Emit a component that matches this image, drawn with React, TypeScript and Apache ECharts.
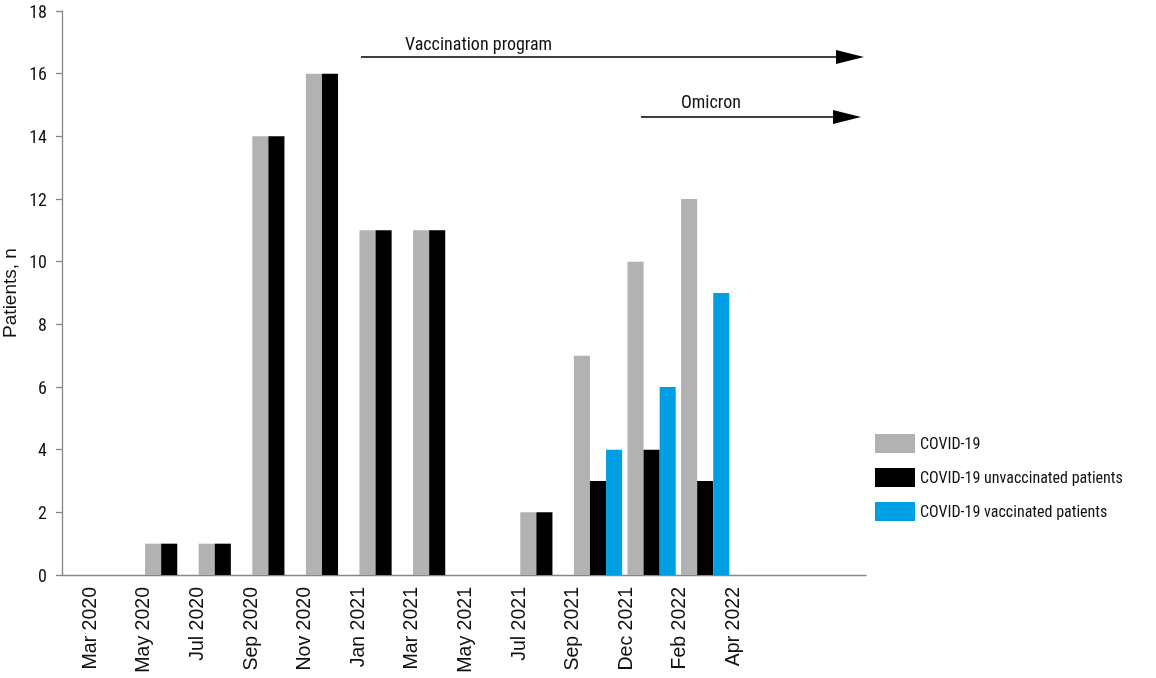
import React, { useEffect, useRef } from "react";
import * as echarts from "echarts";

const tickLabels = [
  "Mar 2020", "May 2020", "Jul 2020", "Sep 2020", "Nov 2020", "Jan 2021", "Mar 2021",
  "May 2021", "Jul 2021", "Sep 2021", "Dec 2021", "Feb 2022", "Apr 2022", "", "",
];
// values per period (bars drawn just right of each tick)
const covid = [0, 1, 1, 14, 16, 11, 11, 0, 2, 7, 10, 12, 0, 0, 0];
const unvaccinated = [0, 1, 1, 14, 16, 11, 11, 0, 2, 3, 4, 3, 0, 0, 0];
const vaccinated = [0, 0, 0, 0, 0, 0, 0, 0, 0, 4, 6, 9, 0, 0, 0];
const seriesNames = ["COVID-19", "COVID-19 unvaccinated patients", "COVID-19 vaccinated patients"];
const colors = ["#b2b2b2", "#000000", "#009fe3"];

const FONT = "'Liberation Sans Narrow', 'Roboto Condensed', 'DejaVu Sans Condensed', 'Liberation Sans', sans-serif";
const FONT_X = "'Liberation Sans', Arial, sans-serif";

export default function App() {
  const ref = useRef<HTMLDivElement>(null);
  useEffect(() => {
    const chart = echarts.init(ref.current!, null, { renderer: "svg" });
    // bar axis: boundaries between label categories (one extra slot in front)
    const barCats = ["", ...tickLabels];
    const pad = (arr: number[]) => [null, ...arr];
    chart.setOption({
      animation: false,
      grid: { left: 62, right: 290, top: 11, bottom: 103, containLabel: false, outerBoundsMode: "none" },
      legend: {
        orient: "vertical",
        left: 870,
        top: 429,
        itemWidth: 40,
        itemHeight: 19,
        itemGap: 15,
        icon: "rect",
        textStyle: { fontFamily: FONT, fontSize: 16, color: "#111" },
        data: seriesNames,
      },
      xAxis: [
        {
          type: "category",
          data: tickLabels,
          boundaryGap: true,
          axisLine: { lineStyle: { color: "#868686", width: 1.3 } },
          axisTick: { alignWithLabel: true, length: 6, lineStyle: { color: "#868686", width: 1.3 } },
          axisLabel: { rotate: 90, fontFamily: FONT_X, fontSize: 19.5, color: "#111", margin: 12, interval: 0 },
          splitLine: { show: false },
        },
        {
          type: "category",
          data: barCats,
          boundaryGap: false,
          show: false,
          position: "bottom",
        },
      ],
      yAxis: {
        type: "value",
        min: 0,
        max: 18,
        interval: 2,
        name: "Patients, n",
        nameLocation: "middle",
        nameGap: 43,
        nameMoveOverlap: false,
        nameTextStyle: { fontFamily: FONT_X, fontSize: 19, color: "#111" },
        axisLine: { show: true, lineStyle: { color: "#868686", width: 1.3 } },
        axisTick: { show: true, length: 6, lineStyle: { color: "#868686", width: 1.3 } },
        axisLabel: { fontFamily: FONT, fontSize: 18, color: "#111", margin: 15 },
        splitLine: { show: false },
      },
      series: [covid, unvaccinated, vaccinated].map((d, i) => ({
        name: seriesNames[i],
        type: "bar",
        xAxisIndex: 1,
        data: pad(d),
        barGap: "0%",
        barCategoryGap: "10%",
        itemStyle: { color: colors[i] },
      })),
      graphic: [
        { type: "text", left: 405, top: 34, style: { text: "Vaccination program", fontFamily: FONT, fontSize: 18, fill: "#111" } },
        { type: "line", shape: { x1: 361, y1: 57, x2: 840, y2: 57 }, style: { stroke: "#000", lineWidth: 1.3 } },
        { type: "polygon", shape: { points: [[836, 50], [864, 57], [836, 64]] }, style: { fill: "#000" } },
        { type: "text", left: 681, top: 92, style: { text: "Omicron", fontFamily: FONT, fontSize: 18, fill: "#111" } },
        { type: "line", shape: { x1: 641, y1: 117, x2: 837, y2: 117 }, style: { stroke: "#000", lineWidth: 1.3 } },
        { type: "polygon", shape: { points: [[833, 110], [861, 117], [833, 124]] }, style: { fill: "#000" } },
      ],
    });
    return () => chart.dispose();
  }, []);
  return <div ref={ref} style={{ position: "fixed", left: 0, top: 0, width: 1156, height: 678 }} />;
}
